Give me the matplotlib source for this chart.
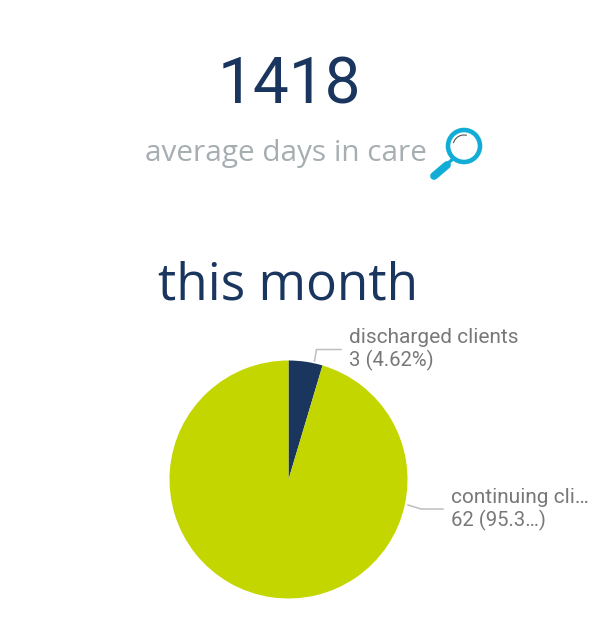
import matplotlib
matplotlib.use("Agg")
import matplotlib.pyplot as plt
from matplotlib.patches import Circle, Arc
from matplotlib.lines import Line2D

W, H = 590, 640
NAVY = "#1A365F"
LIME = "#C4D600"
GREY = "#A6AEB2"
LABEL = "#787878"
LEAD = "#BFBFBF"
CYAN = "#12ADD6"

kpi_value = "1418"
kpi_caption = "average days in care"
section_title = "this month"
categories = ["discharged clients", "continuing clients"]
values = [3, 62]
slice_colors = [NAVY, LIME]
label_lines = [["discharged clients", "3 (4.62%)"], ["continuing cli…", "62 (95.3…)"]]

fig = plt.figure(figsize=(W / 100, H / 100), dpi=100, facecolor="white")

ov = fig.add_axes([0, 0, 1, 1])
ov.set_xlim(0, W)
ov.set_ylim(H, 0)
ov.axis("off")

cx, cy, r = 288.5, 479.5, 119
pie_ax = fig.add_axes([(cx - r) / W, 1 - (cy + r) / H, 2 * r / W, 2 * r / H])
pie_ax.pie(values, colors=slice_colors, startangle=90, counterclock=False, radius=1.0,
           wedgeprops={"linewidth": 0})
pie_ax.set_xlim(-1, 1)
pie_ax.set_ylim(-1, 1)

ov.text(289, 104, kpi_value, family="Roboto", fontsize=46, color=NAVY,
        ha="center", va="baseline", fontweight="normal")
ov.text(286, 154, kpi_caption, family="Open Sans", fontsize=21.4, color=GREY, ha="center", va="center")
ov.text(288.5, 286.5, section_title, family="Open Sans", fontsize=37, color=NAVY, ha="center", va="center")

# magnifier icon
ov.add_line(Line2D([454, 446], [158, 165], color=CYAN, lw=2.4, solid_capstyle="butt"))
ov.add_line(Line2D([447, 434], [165, 176], color=CYAN, lw=5.6, solid_capstyle="round"))
ov.add_patch(Circle((464, 146), 16, fill=False, ec=CYAN, lw=3.3))
ov.add_patch(Arc((464, 146), 22, 22, theta1=195, theta2=285, color="#555555", lw=0.8))

# data labels
for x, y0, lines in [(349, 337.5, label_lines[0]), (451, 497.5, label_lines[1])]:
    ov.text(x, y0, lines[0], family="Roboto", fontsize=15, color=LABEL, ha="left", va="center")
    ov.text(x, y0 + 23, lines[1], family="Roboto", fontsize=14.6, color=LABEL, ha="left", va="center")

# leader lines
ov.add_line(Line2D([314.5, 316.5, 341], [361, 349.5, 349.5], color=LEAD, lw=1.1))
ov.add_line(Line2D([408, 421, 443], [505, 509, 509], color=LEAD, lw=1.1))

fig.savefig("out.png", dpi=100, facecolor="white")
